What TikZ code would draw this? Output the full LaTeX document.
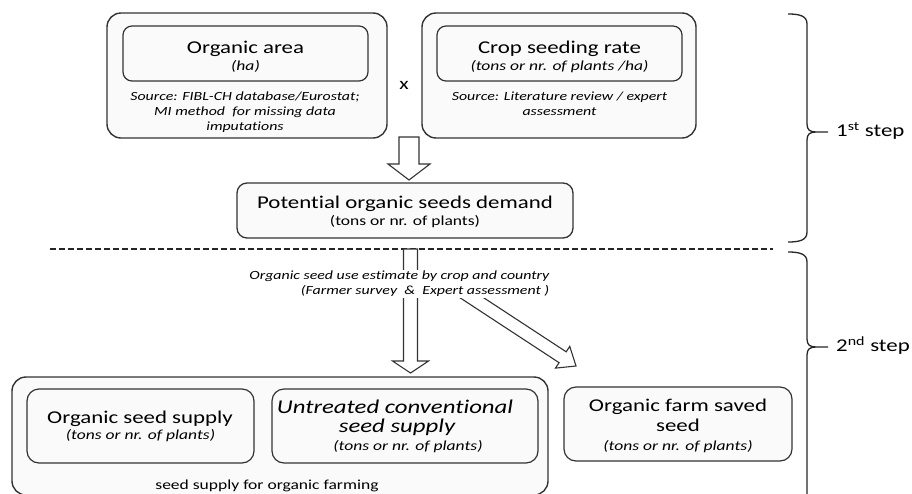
\documentclass[tikz,border=0pt]{standalone}
\usepackage{fontspec}
\setmainfont{Carlito}[FakeStretch=1.27, Ligatures=NoCommon]
\usetikzlibrary{calc}

% hollow block arrow from #1 to #2: shaft half-width #3, head half-width #4, head length #5
\newcommand\blockarrow[5]{%
  \path let \p1=($(#2)-(#1)$) in
    \pgfextra{\pgfmathsetmacro\arrAng{atan2(\y1,\x1)}\global\let\arrAng\arrAng
              \pgfmathsetmacro\arrLen{veclen(\x1,\y1)}\global\let\arrLen\arrLen};
  \begin{scope}[shift={(#1)}, rotate=\arrAng]
    \draw[hollow] (0,#3) -- ({\arrLen-#5},#3) -- ({\arrLen-#5},#4) -- (\arrLen,0)
      -- ({\arrLen-#5},-#4) -- ({\arrLen-#5},-#3) -- (0,-#3) -- cycle;
  \end{scope}}

\begin{document}
\begin{tikzpicture}[x=1pt, y=1pt,
  outerbox/.style={draw=black!80, line width=1.4pt, rounded corners=14pt, fill=black!2, inner sep=0pt},
  innerbox/.style={draw=black!80, line width=1.2pt, rounded corners=9pt, fill=black!2, inner sep=0pt},
  hollow/.style={draw=black!80, line width=1.1pt, fill=white, line join=miter},
  big/.style={anchor=base, inner sep=0pt, font=\fontsize{18}{20}\selectfont},
  bigit/.style={big, font=\fontsize{19.5}{21}\selectfont\itshape},
  small/.style={anchor=base, inner sep=0pt, font=\fontsize{12.5}{15}\selectfont},
  smallit/.style={small, font=\fontsize{12.5}{15}\selectfont\itshape},
  unit/.style={anchor=base, inner sep=0pt, font=\fontsize{13.8}{16}\selectfont},
  unitit/.style={unit, font=\fontsize{13.8}{16}\selectfont\itshape},
  brace/.style={draw=black!85, line width=1.3pt},
  divider/.style={draw=black!85, line width=1.3pt, dash pattern=on 6pt off 3pt}]
\useasboundingbox (0,0) rectangle (912,-493);

% ---- first step: area x seeding rate ----
\node[outerbox, minimum width=280pt, minimum height=125pt] (areaOuter) at (247,-75.5) {};
\node[innerbox, minimum width=245pt, minimum height=55pt] (areaInner) at (245.5,-53.5) {};
\node[big] (areaTitle) at (245.5,-53) {Organic area};
\node[unitit] (areaUnit) at (245.5,-70) {(ha)};
\node[smallit] (areaSrcA) at (245,-100.5) {Source: FIBL-CH database/Eurostat;};
\node[smallit] (areaSrcB) at (245,-115.5) {MI method\ \ for missing data};
\node[smallit] (areaSrcC) at (245,-130.5) {imputations};

\node[outerbox, minimum width=274pt, minimum height=125pt] (rateOuter) at (559,-75.5) {};
\node[innerbox, minimum width=245pt, minimum height=55pt] (rateInner) at (559.5,-53.5) {};
\node[big] (rateTitle) at (559.5,-53) {Crop seeding rate};
\node[unitit] (rateUnit) at (559.5,-70) {(tons or nr. of plants /ha)};
\node[smallit] (rateSrcA) at (559.5,-100.5) {Source: Literature review / expert};
\node[smallit] (rateSrcB) at (559.5,-115.5) {assessment};

\node[inner sep=0pt, font=\fontsize{17}{18}\selectfont] (times) at (404,-85) {x};

\node[draw=black!80, line width=1.3pt, rounded corners=10pt, fill=black!2,
      minimum width=336pt, minimum height=55pt] (demandBox) at (405,-210.5) {};
\node[big] (demandTitle) at (405,-208.3) {Potential organic seeds demand};
\node[unit] (demandUnit) at (405,-225) {(tons or nr. of plants)};

\coordinate (demandTail) at (409,-137);
\coordinate (demandTip) at (409,-180);
\blockarrow{demandTail}{demandTip}{10}{21}{16}

% ---- split between the two steps ----
\coordinate (divL) at (50,-249);
\coordinate (divR) at (773,-249);
\draw[divider] (divL) -- (divR);

% ---- second step ----
\node[outerbox, minimum width=536pt, minimum height=118pt] (supplyOuter) at (280,-436) {};
\node[outerbox, line width=1.2pt, rounded corners=12pt, minimum width=227pt, minimum height=74pt] (orgSupply) at (140.5,-426) {};
\node[outerbox, line width=1.2pt, rounded corners=12pt, minimum width=266pt, minimum height=74pt] (untreated) at (405,-426) {};
\node[outerbox, line width=1.2pt, rounded corners=12pt, minimum width=228pt, minimum height=74pt] (savedBox) at (678,-424) {};

\node[big] (orgTitle) at (140,-423.3) {Organic seed supply};
\node[unitit] (orgUnit) at (140.5,-439) {(tons or nr. of plants)};
\node[bigit] (untTitleA) at (395,-413) {Untreated conventional};
\node[bigit] (untTitleB) at (397,-432) {seed supply};
\node[unitit] (untUnit) at (408,-450.5) {(tons or nr. of plants)};
\node[big] (savedTitleA) at (678,-411.7) {Organic farm saved};
\node[big] (savedTitleB) at (678,-431.7) {seed};
\node[unitit] (savedUnit) at (678,-450.5) {(tons or nr. of plants)};
\node[unit] (supplyLabel) at (267,-489.3) {seed supply for organic farming};

\coordinate (useTop) at (410.5,-249);
\coordinate (supplyTip) at (410.5,-373);
\coordinate (savedTail) at (460,-290);
\coordinate (savedTip) at (576,-366);
\blockarrow{useTop}{supplyTip}{7}{18}{12}
\blockarrow{savedTail}{savedTip}{6.5}{13}{16}

\node[fill=white, inner sep=1.5pt, align=right, anchor=east,
      font=\fontsize{12.5}{15}\selectfont\itshape] (useNote) at (551,-284)
  {Organic seed use estimate by crop and country\\(Farmer survey\ \ \&\ \ Expert assessment )};

% ---- step braces ----
\coordinate (b1top) at (788,-14);
\coordinate (b1tip) at (828,-132);
\coordinate (b1bot) at (788,-242);
\draw[brace] (b1top) .. controls (800,-14) and (807,-16) .. (807,-24) -- (807,-124)
  .. controls (807,-130) and (810,-132) .. (816,-132) -- (b1tip)
  (816,-132) .. controls (810,-132) and (807,-134) .. (807,-140) -- (807,-232)
  .. controls (807,-240) and (800,-242) .. (b1bot);
\node[anchor=base west, inner sep=0pt, font=\fontsize{18}{20}\selectfont] (step1) at (836,-136.7) {1\textsuperscript{st} step};

\coordinate (b2top) at (788,-252);
\coordinate (b2tip) at (828,-347);
\coordinate (b2bot) at (788,-530);
\draw[brace] (b2top) .. controls (800,-252) and (807,-254) .. (807,-262) -- (807,-339)
  .. controls (807,-345) and (810,-347) .. (816,-347) -- (b2tip)
  (816,-347) .. controls (810,-347) and (807,-349) .. (807,-355) -- (807,-520)
  .. controls (807,-528) and (800,-530) .. (b2bot);
\node[anchor=base west, inner sep=0pt, font=\fontsize{18}{20}\selectfont] (step2) at (836,-351.7) {2\textsuperscript{nd} step};

\end{tikzpicture}
\end{document}
